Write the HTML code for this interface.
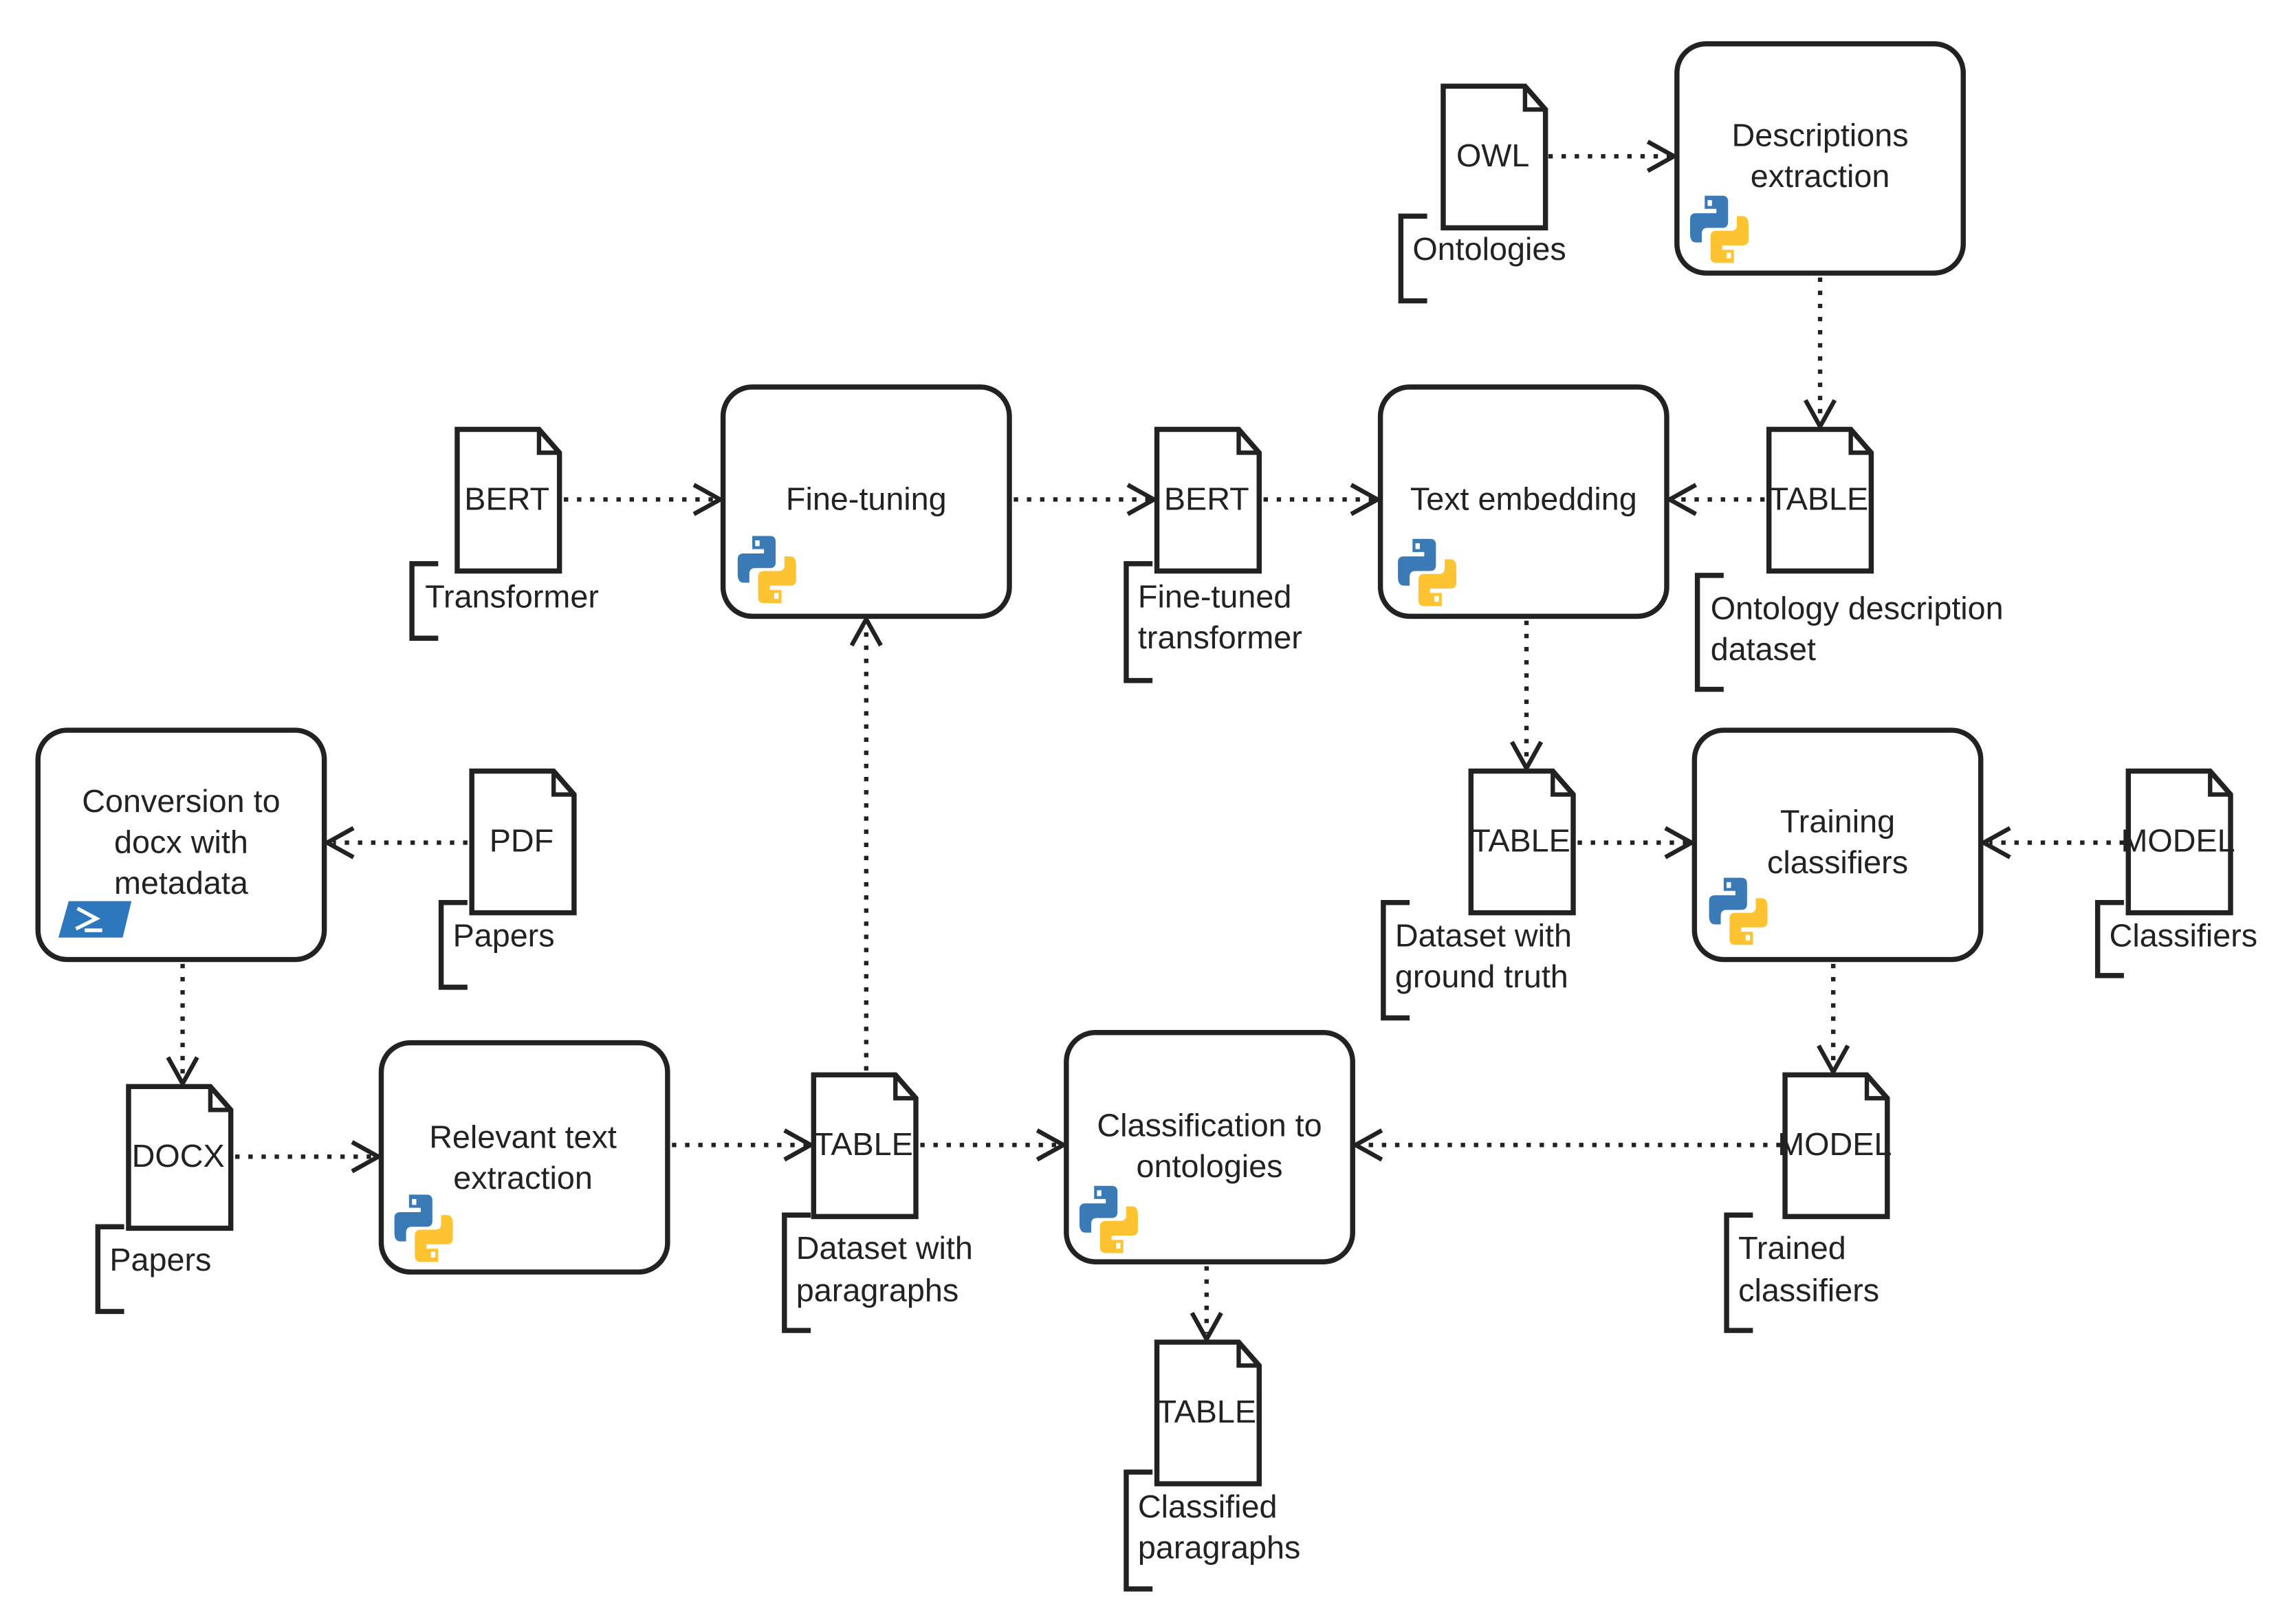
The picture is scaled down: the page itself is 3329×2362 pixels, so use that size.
<!DOCTYPE html>
<html><head><meta charset="utf-8"><style>
html,body{margin:0;padding:0;background:#fff;}
svg{display:block;}
text{font-family:"Liberation Sans",Arial,sans-serif;font-size:22px;fill:#222;}
</style></head><body>
<svg width="3329" height="2362" viewBox="0 0 1567 1112" preserveAspectRatio="none" xmlns="http://www.w3.org/2000/svg">
<defs>
<g id="py">
<path d="M10 0 H22 Q26 0 26 4 V18 Q26 22 22 22 H12 Q8 22 8 26 V32 H4 Q0 32 0 26 V16 Q0 12 4 12 H18 V9 H10 Z" fill="#3a7bb7"/>
<rect x="12" y="3" width="3" height="4" fill="#fff"/>
<g transform="rotate(180 20 23)"><path d="M10 0 H22 Q26 0 26 4 V18 Q26 22 22 22 H12 Q8 22 8 26 V32 H4 Q0 32 0 26 V16 Q0 12 4 12 H18 V9 H10 Z" fill="#fec331"/>
<rect x="12" y="3" width="3" height="4" fill="#fff"/></g>
</g>
<g id="doc">
<path d="M0 0 H56 L70 16 V97 H0 Z" fill="#fff" stroke="#222" stroke-width="3.5"/>
<path d="M56 0 V16 H70" fill="none" stroke="#222" stroke-width="3"/>
</g>
</defs>
<g fill="#fff" stroke="#222" stroke-width="3.5">
<rect x="1148" y="30" width="196" height="157" rx="20"/>
<rect x="495" y="265" width="196" height="157" rx="20"/>
<rect x="945" y="265" width="196" height="157" rx="20"/>
<rect x="26" y="500" width="196" height="157" rx="20"/>
<rect x="1160" y="500" width="196" height="157" rx="20"/>
<rect x="261" y="714" width="196" height="157" rx="20"/>
<rect x="730" y="707" width="196" height="157" rx="20"/>
</g>
<use href="#py" x="1157" y="134"/>
<use href="#py" x="505" y="367"/>
<use href="#py" x="957" y="369"/>
<use href="#py" x="1170" y="601"/>
<use href="#py" x="270" y="818"/>
<use href="#py" x="739" y="812"/>
<g>
<path d="M47 617 H90 L84 642 H40 Z" fill="#2d78bd"/>
<path d="M53 622 L66 629 L52 636 M58 637 H70" stroke="#fff" stroke-width="2.5" fill="none"/>
</g>
<use href="#doc" x="988" y="59"/>
<use href="#doc" x="313" y="294"/>
<use href="#doc" x="792" y="294"/>
<use href="#doc" x="1211" y="294"/>
<use href="#doc" x="323" y="528"/>
<use href="#doc" x="1007" y="528"/>
<use href="#doc" x="1457" y="528"/>
<use href="#doc" x="88" y="744"/>
<use href="#doc" x="557" y="736"/>
<use href="#doc" x="1222" y="736"/>
<use href="#doc" x="792" y="919"/>
<g fill="none" stroke="#222" stroke-width="3.5">
<path d="M977 148 H959 V206 H977"/>
<path d="M300 386 H282 V437 H300"/>
<path d="M789 386 H771 V466 H789"/>
<path d="M1180 394 H1162 V472 H1180"/>
<path d="M320 618 H302 V676 H320"/>
<path d="M965 618 H947 V697 H965"/>
<path d="M1454 618 H1436 V668 H1454"/>
<path d="M85 840 H67 V898 H85"/>
<path d="M555 832 H537 V911 H555"/>
<path d="M1200 832 H1182 V911 H1200"/>
<path d="M789 1008 H771 V1088 H789"/>
</g>
<g fill="none" stroke="#222" stroke-width="3" stroke-dasharray="3 6">
<path d="M1060 107 H1144"/>
<path d="M1246 190 V288"/>
<path d="M386 342 H490"/>
<path d="M694 342 H787"/>
<path d="M865 342 H940"/>
<path d="M1208 342 H1146"/>
<path d="M1045 425 V522"/>
<path d="M1080 577 H1155"/>
<path d="M1454 577 H1362"/>
<path d="M1255 660 V730"/>
<path d="M320 577 H228"/>
<path d="M125 660 V738"/>
<path d="M161 792 H255"/>
<path d="M460 784 H552"/>
<path d="M593 733 V428"/>
<path d="M630 784 H724"/>
<path d="M1219 784 H932"/>
<path d="M826 867 V913"/>
</g>
<g fill="none" stroke="#222" stroke-width="3">
<path d="M1128 97 L1146 107 L1128 117"/>
<path d="M1236 274 L1246 292 L1256 274"/>
<path d="M475 332 L493 342 L475 352"/>
<path d="M772 332 L790 342 L772 352"/>
<path d="M925 332 L943 342 L925 352"/>
<path d="M1161 332 L1143 342 L1161 352"/>
<path d="M1035 508 L1045 526 L1055 508"/>
<path d="M1140 567 L1158 577 L1140 587"/>
<path d="M1376 567 L1358 577 L1376 587"/>
<path d="M1245 716 L1255 734 L1265 716"/>
<path d="M242 567 L224 577 L242 587"/>
<path d="M115 724 L125 742 L135 724"/>
<path d="M241 782 L259 792 L241 802"/>
<path d="M537 774 L555 784 L537 794"/>
<path d="M583 442 L593 424 L603 442"/>
<path d="M710 774 L728 784 L710 794"/>
<path d="M946 774 L928 784 L946 794"/>
<path d="M816 899 L826 917 L836 899"/>
</g>
<g text-anchor="middle">
<text x="1246" y="100">Descriptions</text>
<text x="1246" y="128">extraction</text>
<text x="593" y="349">Fine-tuning</text>
<text x="1043" y="349">Text embedding</text>
<text x="124" y="556">Conversion to</text>
<text x="124" y="584">docx with</text>
<text x="124" y="612">metadata</text>
<text x="1258" y="570">Training</text>
<text x="1258" y="598">classifiers</text>
<text x="358" y="786">Relevant text</text>
<text x="358" y="814">extraction</text>
<text x="828" y="778">Classification to</text>
<text x="828" y="806">ontologies</text>
<text x="1022" y="114" font-size="21">OWL</text>
<text x="347" y="349" font-size="21">BERT</text>
<text x="826" y="349" font-size="21">BERT</text>
<text x="1245" y="349" font-size="21">TABLE</text>
<text x="357" y="583" font-size="21">PDF</text>
<text x="1041" y="583" font-size="21">TABLE</text>
<text x="1491" y="583" font-size="21">MODEL</text>
<text x="122" y="799" font-size="21">DOCX</text>
<text x="591" y="791" font-size="21">TABLE</text>
<text x="1256" y="791" font-size="21">MODEL</text>
<text x="826" y="974" font-size="21">TABLE</text>
</g>
<g>
<text x="967" y="178">Ontologies</text>
<text x="291" y="416">Transformer</text>
<text x="779" y="416">Fine-tuned</text>
<text x="779" y="444">transformer</text>
<text x="1171" y="424">Ontology description</text>
<text x="1171" y="452">dataset</text>
<text x="310" y="648">Papers</text>
<text x="955" y="648">Dataset with</text>
<text x="955" y="676">ground truth</text>
<text x="1444" y="648">Classifiers</text>
<text x="75" y="870">Papers</text>
<text x="545" y="862">Dataset with</text>
<text x="545" y="891">paragraphs</text>
<text x="1190" y="862">Trained</text>
<text x="1190" y="891">classifiers</text>
<text x="779" y="1039">Classified</text>
<text x="779" y="1067">paragraphs</text>
</g>
</svg>
</body></html>
